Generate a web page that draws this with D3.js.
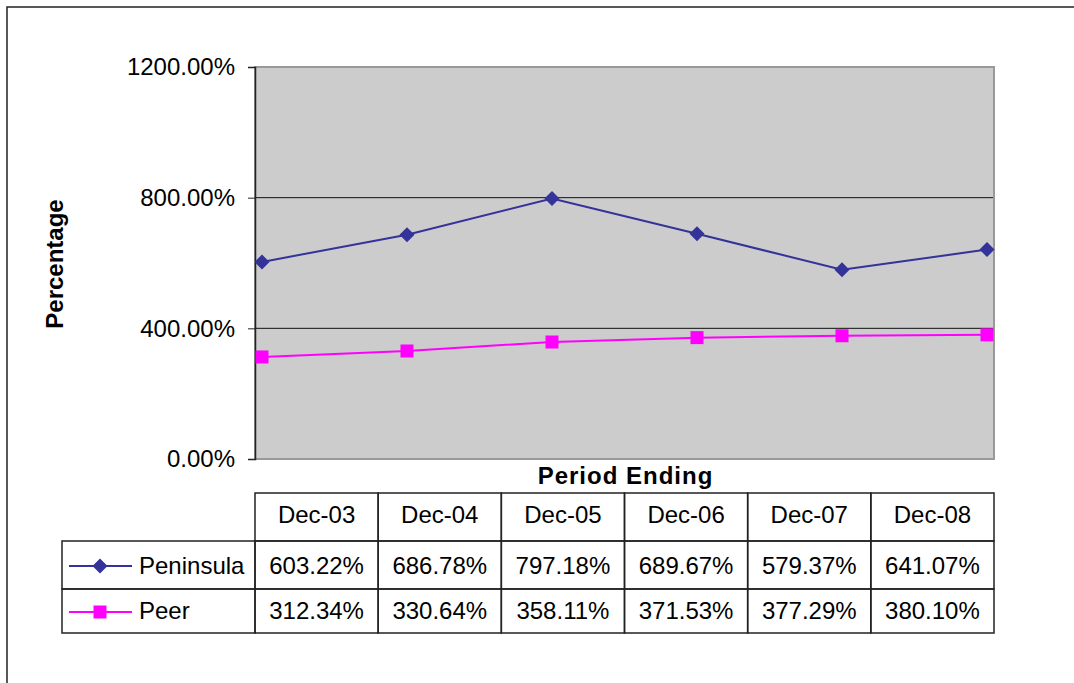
<!DOCTYPE html>
<html>
<head>
  <meta charset="utf-8">
  <script src="https://d3js.org/d3.v7.min.js"></script>
  <style>
    body { margin: 0; background: #fff; }
    svg { display: block; font-family: Arial, "Liberation Sans", sans-serif; }
  </style>
</head>
<body>
  <script>
    // Chart data
    const categories = ["Dec-03", "Dec-04", "Dec-05", "Dec-06", "Dec-07", "Dec-08"];
    const peninsula = [603.22, 686.78, 797.18, 689.67, 579.37, 641.07];
    const peer = [312.34, 330.64, 358.11, 371.53, 377.29, 380.10];
    const yTicks = [0, 400, 800, 1200];

    const series = [
      { name: "Peninsula", values: peninsula, color: "#333399", marker: "diamond" },
      { name: "Peer", values: peer, color: "#ff00ff", marker: "square" }
    ];

    const width = 1074, height = 683;
    const plot = { left: 255, right: 994, top: 67, bottom: 459 };

    const svg = d3.select("body").append("svg")
      .attr("width", width)
      .attr("height", height);

    // outer frame (runs off the right and bottom of the picture)
    svg.append("rect")
      .attr("x", 7).attr("y", 7)
      .attr("width", 1200).attr("height", 800)
      .attr("fill", "none")
      .attr("stroke", "#222")
      .attr("stroke-width", 1.5);

    //Scales
    const x = d3.scalePoint().domain(categories).range([262, 987]);
    const y = d3.scaleLinear().domain([0, 1200]).range([plot.bottom, plot.top]);
    const col = d3.scaleBand().domain(categories).range([plot.left, plot.right]);

    // plot area
    svg.append("rect")
      .attr("x", plot.left).attr("y", plot.top)
      .attr("width", plot.right - plot.left)
      .attr("height", plot.bottom - plot.top)
      .attr("fill", "#cccccc")
      .attr("stroke", "#999")
      .attr("stroke-width", 2);

    // gridlines
    svg.append("g")
      .selectAll("line")
      .data(yTicks.filter(d => d > 0 && d < 1200))
      .join("line")
      .attr("x1", plot.left).attr("x2", plot.right - 1)
      .attr("y1", d => y(d)).attr("y2", d => y(d))
      .attr("stroke", "#111")
      .attr("stroke-width", 1);

    // y axis
    const yAxis = svg.append("g")
      .attr("transform", "translate(" + plot.left + ",0)")
      .call(d3.axisLeft(y).tickValues(yTicks).tickSize(7).tickPadding(13)
        .tickFormat(d => d3.format(".2f")(d) + "%"));
    yAxis.select(".domain").attr("stroke", "#222").attr("stroke-width", 1.5);
    yAxis.selectAll(".tick line").attr("stroke", "#222");
    yAxis.selectAll("text")
      .attr("font-size", 24)
      .attr("font-family", "Arial, 'Liberation Sans', sans-serif")
      .attr("fill", "#000");

    // axis titles
    svg.append("text")
      .attr("transform", "translate(63,264) rotate(-90)")
      .attr("text-anchor", "middle")
      .attr("font-size", 24)
      .attr("font-weight", "bold")
      .text("Percentage");

    svg.append("text")
      .attr("x", (plot.left + plot.right) / 2 + 1)
      .attr("y", 484)
      .attr("text-anchor", "middle")
      .attr("font-size", 24)
      .attr("font-weight", "bold")
      .attr("letter-spacing", 1)
      .text("Period Ending");

    function drawMarker(g, type, color) {
      if (type === "diamond") {
        g.append("path")
          .attr("d", "M0,-7.5L7.5,0L0,7.5L-7.5,0Z")
          .attr("fill", color);
      } else {
        g.append("rect")
          .attr("x", -6.5).attr("y", -6.5)
          .attr("width", 13).attr("height", 13)
          .attr("fill", color);
      }
    }

    // series lines and markers
    const line = d3.line()
      .x((d, i) => x(categories[i]))
      .y(d => y(d));

    series.forEach(s => {
      svg.append("path")
        .datum(s.values)
        .attr("fill", "none")
        .attr("stroke", s.color)
        .attr("stroke-width", 2)
        .attr("d", line);

      svg.append("g")
        .selectAll("g")
        .data(s.values)
        .join("g")
        .attr("transform", (d, i) => "translate(" + x(categories[i]) + "," + y(d) + ")")
        .each(function() { drawMarker(d3.select(this), s.marker, s.color); });
    });

    // data table
    const table = svg.append("g");
    const rowTop = [493, 541, 589];
    const rowBottom = 633;
    const baselineShift = [9, 8];
    const legendLeft = 62;
    const border = { stroke: "#222", width: 1.5 };

    // header cells
    table.selectAll(".hdr")
      .data(categories)
      .join("rect")
      .attr("class", "hdr")
      .attr("x", d => col(d)).attr("y", rowTop[0])
      .attr("width", col.bandwidth()).attr("height", rowTop[1] - rowTop[0])
      .attr("fill", "none")
      .attr("stroke", border.stroke).attr("stroke-width", border.width);

    table.selectAll(".hdrText")
      .data(categories)
      .join("text")
      .attr("class", "hdrText")
      .attr("x", d => col(d) + col.bandwidth() / 2)
      .attr("y", 523)
      .attr("text-anchor", "middle")
      .attr("font-size", 24)
      .text(d => d);

    series.forEach((s, r) => {
      const top = rowTop[r + 1];
      const bottom = r === 0 ? rowTop[2] : rowBottom;
      const mid = (top + bottom) / 2;
      const base = mid + baselineShift[r];

      // legend cell
      table.append("rect")
        .attr("x", legendLeft).attr("y", top)
        .attr("width", plot.left - legendLeft).attr("height", bottom - top)
        .attr("fill", "none")
        .attr("stroke", border.stroke).attr("stroke-width", border.width);

      table.append("line")
        .attr("x1", 69).attr("x2", 132)
        .attr("y1", mid + 1).attr("y2", mid + 1)
        .attr("stroke", s.color).attr("stroke-width", 2);
      drawMarker(table.append("g").attr("transform", "translate(100," + (mid + 1) + ")"), s.marker, s.color);

      table.append("text")
        .attr("x", 139).attr("y", base)
        .attr("font-size", 24)
        .text(s.name);

      // value cells
      table.append("g")
        .selectAll("rect")
        .data(categories)
        .join("rect")
        .attr("x", d => col(d)).attr("y", top)
        .attr("width", col.bandwidth()).attr("height", bottom - top)
        .attr("fill", "none")
        .attr("stroke", border.stroke).attr("stroke-width", border.width);

      table.append("g")
        .selectAll("text")
        .data(s.values)
        .join("text")
        .attr("x", (d, i) => col(categories[i]) + col.bandwidth() / 2)
        .attr("y", base)
        .attr("text-anchor", "middle")
        .attr("font-size", 24)
        .text(d => d3.format(".2f")(d) + "%");
    });
  </script>
</body>
</html>
